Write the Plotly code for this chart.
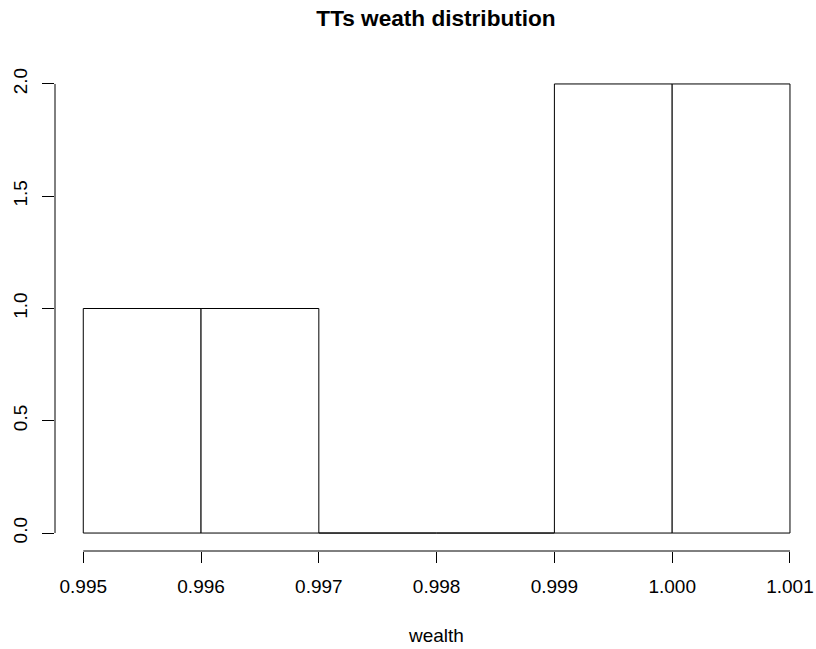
import plotly.graph_objects as go

# Data: histogram bins (breaks) and counts
bin_edges = [0.995, 0.996, 0.997, 0.998, 0.999, 1.000, 1.001]
counts = [1, 1, 0, 0, 2, 2]
x_ticks = [0.995, 0.996, 0.997, 0.998, 0.999, 1.000, 1.001]
y_ticks = [0.0, 0.5, 1.0, 1.5, 2.0]
title_text = "TTs weath distribution"
x_label = "wealth"

centers = [(a + b) / 2 for a, b in zip(bin_edges[:-1], bin_edges[1:])]
widths = [b - a for a, b in zip(bin_edges[:-1], bin_edges[1:])]

FONT = "Liberation Sans, Arial, sans-serif"

fig = go.Figure()
fig.add_trace(go.Bar(
    x=centers, y=counts, width=widths,
    marker=dict(color="white", line=dict(color="black", width=1)),
    hoverinfo="skip",
))

W, H = 816, 649
PLOT_BOTTOM = 551.2
L, R, T = 55, 6, 66
B = H - PLOT_BOTTOM
pxw = W - L - R
x0 = 0.99476
x_per_px = (x_ticks[-1] - x_ticks[0]) / 706.7
x1 = x0 + pxw * x_per_px

fig.update_layout(
    template="none",
    width=W, height=H,
    margin=dict(l=L, r=R, t=T, b=B, autoexpand=False),
    paper_bgcolor="white", plot_bgcolor="white",
    showlegend=False, bargap=0,
    font=dict(family=FONT, color="black", size=19),
    title=dict(text="<b>" + title_text + "</b>", x=436 / W, xanchor="center",
               xref="container", yref="container", y=1 - 18.5 / H, yanchor="middle",
               font=dict(family=FONT, size=22.6, color="black")),
    xaxis=dict(range=[x0, x1], tickvals=x_ticks, tickformat=".3f", automargin=False,
               ticks="outside", ticklen=11, tickwidth=1, tickcolor="black",
               ticklabelstandoff=7,
               showgrid=False, zeroline=False, showline=False,
               tickfont=dict(size=19, family=FONT, color="black")),
    yaxis=dict(range=[y_ticks[0] - 0.08, y_ticks[-1] + 0.08], tickvals=y_ticks, tickformat=".1f",
               automargin=False,
               ticks="outside", ticklen=12, tickwidth=1, tickcolor="black",
               tickangle=-90, ticklabelstandoff=7,
               showgrid=False, zeroline=False, showline=False,
               tickfont=dict(size=19, family=FONT, color="black")),
    shapes=[
        dict(type="line", xref="x", yref="paper", x0=x_ticks[0], x1=x_ticks[-1], y0=0, y1=0,
             line=dict(color="black", width=1)),
        dict(type="line", xref="paper", yref="y", x0=0, x1=0, y0=y_ticks[0], y1=y_ticks[-1],
             line=dict(color="black", width=1)),
    ],
    annotations=[
        dict(text=x_label, xref="paper", yref="paper",
             x=(436 - L) / pxw, y=-(636 - PLOT_BOTTOM) / (H - T - B),
             xanchor="center", yanchor="middle", showarrow=False,
             font=dict(size=19, family=FONT, color="black")),
    ],
)

fig.write_html("out.html",
               config={"displayModeBar": False, "staticPlot": True},
               post_script="document.body.style.margin='0';document.body.style.overflow='hidden';")
